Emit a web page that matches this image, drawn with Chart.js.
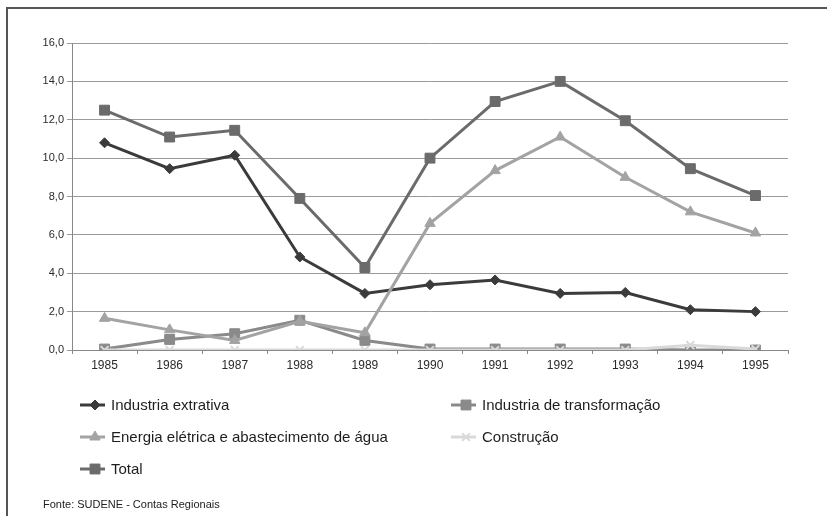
<!DOCTYPE html>
<html>
<head>
<meta charset="utf-8">
<script src="https://cdn.jsdelivr.net/npm/chart.js@4/dist/chart.umd.min.js"></script>
<style>
  html, body { margin: 0; padding: 0; background: #fff; }
  #wrap { width: 827px; height: 516px; position: relative; }
</style>
</head>
<body>
<div id="wrap"><canvas id="c" width="827" height="516"></canvas></div>
<script>
const years = ['1985', '1986', '1987', '1988', '1989', '1990', '1991', '1992', '1993', '1994', '1995'];
const extrativa = [10.8, 9.45, 10.15, 4.85, 2.95, 3.4, 3.65, 2.95, 3.0, 2.1, 2.0];
const transformacao = [0.05, 0.55, 0.85, 1.55, 0.5, 0.05, 0.05, 0.05, 0.05, 0.0, 0.0];
const energia = [1.65, 1.05, 0.5, 1.5, 0.9, 6.6, 9.35, 11.1, 9.0, 7.2, 6.1];
const construcao = [0, 0, 0, 0, 0, 0, 0, 0, 0, 0.25, 0.05];
const total = [12.5, 11.1, 11.45, 7.9, 4.3, 10.0, 12.95, 14.0, 11.95, 9.45, 8.05];

const seriesNames = [
    'Industria extrativa',
    'Industria de transformação',
    'Energia elétrica e abastecimento de água',
    'Construção',
    'Total'
];
const sourceNote = 'Fonte: SUDENE - Contas Regionais';

const FONT = "'Liberation Sans', Arial, sans-serif";

function makeSet(i, data, color, style, radius) {
    return {
        label: seriesNames[i],
        data: data,
        borderColor: color,
        backgroundColor: color,
        borderWidth: 3,
        pointStyle: style,
        pointRadius: radius,
        pointBorderWidth: style === 'crossRot' ? 2 : 1,
        pointBackgroundColor: color,
        pointBorderColor: color,
        tension: 0,
        fill: false,
        order: 5 - i // later series on top, like the original
    };
}

const datasets = [
    makeSet(0, extrativa, '#3b3b3b', 'rectRot', 5),
    makeSet(1, transformacao, '#8a8a8a', 'rect', 7),
    makeSet(2, energia, '#a3a3a3', 'triangle', 6),
    makeSet(3, construcao, '#d9d9d9', 'crossRot', 5.5),
    makeSet(4, total, '#6b6b6b', 'rect', 7)
];

// legend (two columns), frame and source line drawn by hand
const extras = {
    id: 'extras',
    afterDraw(chart) {
        const ctx = chart.ctx;
        ctx.save();
        ctx.strokeStyle = '#555';
        ctx.lineWidth = 2;
        ctx.beginPath();
        ctx.moveTo(827, 8);
        ctx.lineTo(7, 8);
        ctx.lineTo(7, 516);
        ctx.stroke();

        const spots = [[80, 405], [451, 405], [80, 437], [451, 437], [80, 469]];
        chart.data.datasets.forEach((ds, i) => {
            const [x, y] = spots[i];
            ctx.strokeStyle = ds.borderColor;
            ctx.lineWidth = 3;
            ctx.beginPath();
            ctx.moveTo(x, y);
            ctx.lineTo(x + 25, y);
            ctx.stroke();

            ctx.fillStyle = ds.pointBackgroundColor;
            ctx.strokeStyle = ds.pointBorderColor;
            ctx.lineWidth = ds.pointBorderWidth;
            Chart.helpers.drawPoint(ctx, {
                pointStyle: ds.pointStyle,
                radius: ds.pointRadius,
                rotation: 0,
                borderWidth: ds.pointBorderWidth
            }, x + 15, y);

            ctx.fillStyle = '#1e1e1e';
            ctx.font = '15px ' + FONT;
            ctx.textBaseline = 'middle';
            ctx.textAlign = 'left';
            ctx.fillText(ds.label, x + 31, y + 1);
        });

        ctx.fillStyle = '#222';
        ctx.font = '11px ' + FONT;
        ctx.textBaseline = 'middle';
        ctx.fillText(sourceNote, 43, 505);
        ctx.restore();
    }
};

new Chart(document.getElementById('c'), {
    type: 'line',
    data: { labels: years, datasets },
    plugins: [extras],
    options: {
        responsive: false,
        animation: false,
        layout: { padding: { left: 0, right: 39, top: 43, bottom: 0 } },
        plugins: {
            legend: { display: false },
            tooltip: { enabled: false }
        },
        scales: {
            x: {
                offset: true,
                afterFit(scale) { scale.height = 166; },
                grid: {
                    display: true,
                    offset: true,
                    drawOnChartArea: false,
                    tickLength: 4,
                    color: '#888'
                },
                border: { color: '#888', width: 1 },
                ticks: {
                    color: '#2a2a2a',
                    font: { family: FONT, size: 12 },
                    padding: 4,
                    maxRotation: 0
                }
            },
            y: {
                min: 0,
                max: 16,
                afterFit(scale) { scale.width = 72; },
                grid: { color: '#9a9a9a', tickLength: 5, lineWidth: 1 },
                border: { color: '#888', width: 1 },
                ticks: {
                    stepSize: 2,
                    color: '#2a2a2a',
                    font: { family: FONT, size: 11 },
                    padding: 3,
                    callback: v => v.toFixed(1).replace('.', ',')
                }
            }
        }
    }
});
</script>
</body>
</html>
